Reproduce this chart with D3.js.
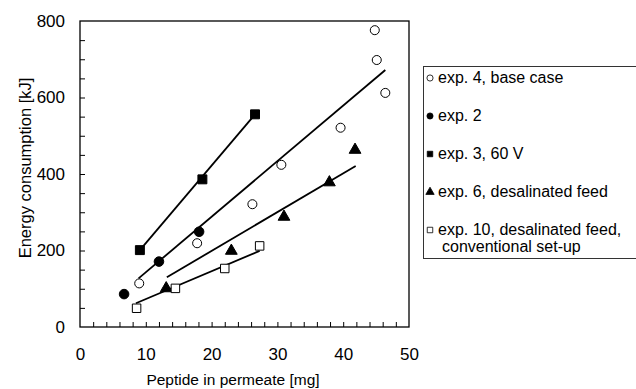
<!DOCTYPE html>
<html>
<head>
<meta charset="utf-8">
<script src="https://cdn.jsdelivr.net/npm/d3@7"></script>
<style>
  body { margin: 0; background: #fff; }
  svg { font-family: "Liberation Sans", Arial, sans-serif; }
</style>
</head>
<body>
<svg id="chart" width="636" height="389"></svg>
<script>
// values
const exp4X = [9.0, 17.8, 26.2, 30.6, 39.6, 44.8, 45.1, 46.4];
const exp4Y = [114, 219, 321, 424, 521, 776, 698, 612];
const exp2X = [6.7, 12.0, 18.1];
const exp2Y = [86, 171, 249];
const exp3X = [9.1, 18.6, 26.6];
const exp3Y = [201, 386, 556];
const exp6X = [13.1, 23.0, 31.0, 37.9, 41.8];
const exp6Y = [101, 199, 288, 378, 463];
const exp10X = [8.6, 14.5, 22.0, 27.3];
const exp10Y = [49, 101, 153, 212];

// fitted lines: [x0, y0, x1, y1]
const fitLines = [
    [8.9, 127, 46.4, 672],
    [9.1, 201, 26.6, 556],
    [13.2, 130, 41.9, 421],
    [8.5, 62, 27.3, 199]
];

const xTicks = [0, 10, 20, 30, 40, 50];
const yTicks = [0, 200, 400, 600, 800];
const legendLabels = [
    ['exp. 4, base case'],
    ['exp. 2'],
    ['exp. 3, 60 V'],
    ['exp. 6, desalinated feed'],
    ['exp. 10, desalinated feed,', 'conventional set-up']
];
const legendMarkers = ['openCircle', 'circle', 'square', 'triangle', 'openSquare'];

const svg = d3.select('#chart');

const x = d3.scaleLinear().domain([0, 50]).range([80, 409]);
const y = d3.scaleLinear().domain([0, 800]).range([327, 21]);

// frame
svg.append('rect')
    .attr('x', x(0)).attr('y', y(800))
    .attr('width', x(50) - x(0)).attr('height', y(0) - y(800))
    .attr('fill', 'none').attr('stroke', '#000').attr('stroke-width', 1.3);

// minor ticks (inside)
svg.append('g')
    .attr('transform', `translate(0,${y(0)})`)
    .call(d3.axisTop(x).tickValues(d3.range(2, 50, 2)).tickSize(5).tickFormat(''))
    .call(g => g.select('.domain').remove());
svg.append('g')
    .attr('transform', `translate(${x(0)},0)`)
    .call(d3.axisRight(y).tickValues(d3.range(50, 800, 50)).tickSize(5).tickFormat(''))
    .call(g => g.select('.domain').remove());

// labels
const xAxis = svg.append('g')
    .attr('transform', `translate(0,${y(0)})`)
    .call(d3.axisBottom(x).tickValues(xTicks).tickSize(0).tickPadding(21));
xAxis.select('.domain').remove();
xAxis.selectAll('text').attr('font-size', 17).attr('font-family', null).attr('fill', '#000');

const yAxis = svg.append('g')
    .attr('transform', `translate(${x(0)},0)`)
    .call(d3.axisLeft(y).tickValues(yTicks).tickSize(0).tickPadding(15));
yAxis.select('.domain').remove();
yAxis.selectAll('text').attr('font-size', 17).attr('font-family', null).attr('fill', '#000');

svg.append('text')
    .attr('x', 233).attr('y', 385)
    .attr('text-anchor', 'middle').attr('font-size', 15.5)
    .text('Peptide in permeate [mg]');

svg.append('text')
    .attr('transform', `translate(31,${(y(0) + y(800)) / 2 - 6}) rotate(-90)`)
    .attr('text-anchor', 'middle').attr('font-size', 16.5)
    .text('Energy consumption [kJ]');

// fit lines
svg.append('g')
    .selectAll('line')
    .data(fitLines)
    .enter().append('line')
    .attr('x1', d => x(d[0])).attr('y1', d => y(d[1]))
    .attr('x2', d => x(d[2])).attr('y2', d => y(d[3]))
    .attr('stroke', '#000').attr('stroke-width', 1.8);

// markers
const symbols = {
    openCircle: { type: d3.symbolCircle, fill: '#fff' },
    circle: { type: d3.symbolCircle, fill: '#000' },
    square: { type: d3.symbolSquare, fill: '#000' },
    triangle: { type: d3.symbolTriangle, fill: '#000' },
    openSquare: { type: d3.symbolSquare, fill: '#fff' }
};

function drawPoints(xs, ys, kind, size) {
    const s = symbols[kind];
    svg.append('g')
        .selectAll('path')
        .data(xs.map((v, i) => [v, ys[i]]))
        .enter().append('path')
        .attr('transform', d => `translate(${x(d[0])},${y(d[1])})`)
        .attr('d', d3.symbol().type(s.type).size(size))
        .attr('fill', s.fill)
        .attr('stroke', '#000')
        .attr('stroke-width', 1);
}

drawPoints(exp4X, exp4Y, 'openCircle', 64);
drawPoints(exp2X, exp2Y, 'circle', 72);
drawPoints(exp3X, exp3Y, 'square', 80);
drawPoints(exp6X, exp6Y, 'triangle', 60);
drawPoints(exp10X, exp10Y, 'openSquare', 72);

// legend
const legend = svg.append('g');
legend.append('rect')
    .attr('x', 423.5).attr('y', 66.5).attr('width', 230).attr('height', 192)
    .attr('fill', '#fff').attr('stroke', '#333').attr('stroke-width', 1);

legendLabels.forEach((lines, i) => {
    const cy = 78 + i * 38;
    const s = symbols[legendMarkers[i]];
    legend.append('path')
        .attr('transform', `translate(430,${cy})`)
        .attr('d', d3.symbol().type(s.type).size(30))
        .attr('fill', s.fill)
        .attr('stroke', '#000')
        .attr('stroke-width', 0.8);
    const t = legend.append('text')
        .attr('x', 438).attr('y', cy + 5)
        .attr('font-size', 16);
    lines.forEach((line, j) => {
        t.append('tspan')
            .attr('x', j === 0 ? 438 : 442)
            .attr('dy', j === 0 ? 0 : 17)
            .text(line);
    });
});
</script>
</body>
</html>
